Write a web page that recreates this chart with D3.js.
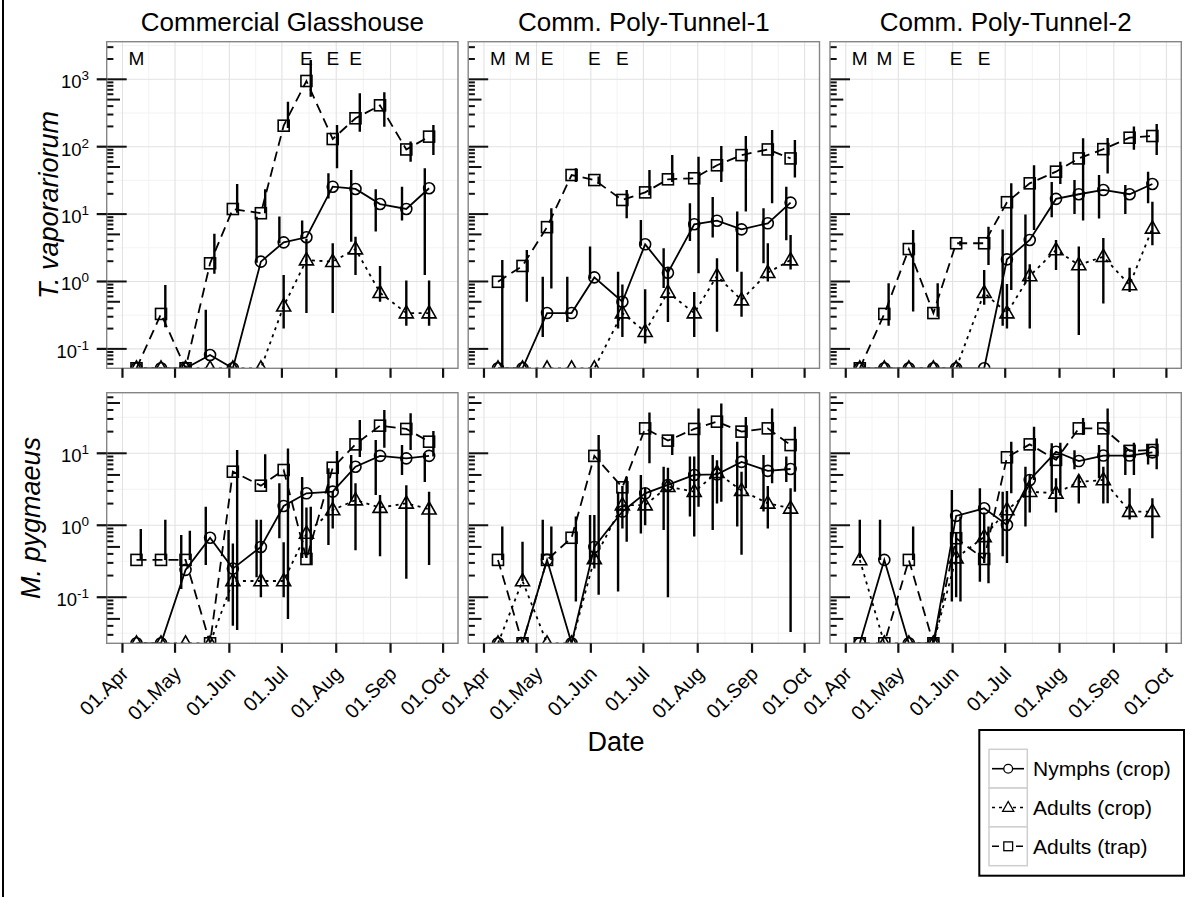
<!DOCTYPE html>
<html>
<head>
<meta charset="utf-8">
<script src="https://cdn.jsdelivr.net/npm/d3@7"></script>
<style>
  body { margin: 0; background: #fff; }
  svg { display: block; }
  text { font-family: "Liberation Sans", Arial, Helvetica, sans-serif; fill: #000; }
</style>
</head>
<body>
<svg id="chart" width="1200" height="897"></svg>
<script>
// ---- Sampling calendar and facets ----
const sampleDates = ["2013-04-09","2013-04-23","2013-05-07","2013-05-21","2013-06-03","2013-06-19",
  "2013-07-02","2013-07-15","2013-07-30","2013-08-12","2013-08-26","2013-09-10","2013-09-23"];
const sites = ["Commercial Glasshouse", "Comm. Poly-Tunnel-1", "Comm. Poly-Tunnel-2"];
const species = ["T. vaporariorum", "M. pygmaeus"];
const stages = ["Nymphs (crop)", "Adults (crop)", "Adults (trap)"];
const monthTicks = ["2013-04-01","2013-05-01","2013-06-01","2013-07-01","2013-08-01","2013-09-01","2013-10-01"];
const tvapDecades = [-1, 0, 1, 2, 3];
const mpygDecades = [-1, 0, 1];

// Release events per site (M = M. pygmaeus, E = Encarsia), one slot per sampling date
const releases = [
  ["M","","","","","","","E","E","E","","",""],
  ["M","M","E","","E","E","","","","","","",""],
  ["M","M","E","","E","E","","","","","","",""]
];

// ---- T. vaporariorum (one row per site) ----
const tvapNymphs = [
  [0,0,0,0.081,0,1.97,3.81,4.53,25.5,23.6,14.1,11.9,24.2],
  [0,0,0.34,0.34,1.15,0.50,3.56,1.35,7.06,7.98,5.94,7.3,14.8],
  [0,0,0,0,0,0,2.13,4.13,16.8,19.7,22.8,19.7,28]
];
const tvapNymphsLo = [
  [null,null,null,0.072,null,1.9,3.7,4.3,17.1,3.9,5.5,8,1.25],
  [null,null,0.15,0.25,1.1,0.2,3.4,0.8,4,4.5,1.4,1.87,4.1],
  [null,null,null,null,null,null,0.22,0.94,9,10,8.6,10,14.5]
];
const tvapNymphsHi = [
  [null,null,null,0.38,null,9.1,9.2,8.0,40.3,45,23.3,25.5,48],
  [null,null,1.18,1.18,3.3,1.4,8.2,3.1,14.5,18,10.9,12.2,25.5],
  [null,null,null,null,null,null,5.9,9.9,30,32,38,27,42.6]
];
const tvapAdults = [
  [0,0,0,0,0,0,0.43,2.08,1.97,3.03,0.68,0.34,0.34],
  [0,0,0,0,0,0.34,0.18,0.69,0.34,1.21,0.53,1.35,2.08],
  [0,0,0,0,0,0.68,0.34,1.21,2.93,1.76,2.33,0.89,6.15]
];
const tvapAdultsLo = [
  [null,null,null,null,null,null,0.2,0.34,0.34,1.25,0.5,0.22,0.22],
  [null,null,null,null,null,0.15,0.12,0.25,0.15,0.18,0.3,1.0,1.5],
  [null,null,null,null,null,0.45,0.2,0.2,1.48,0.16,0.47,0.7,3.45]
];
const tvapAdultsHi = [
  [null,null,null,null,null,null,1.25,4.3,3.7,4.6,1.7,1.03,1.03],
  [null,null,null,null,null,0.9,0.77,1.6,0.7,2.21,1.4,3.68,4.9],
  [null,null,null,null,null,1.48,0.92,1.8,4.13,3.3,4.4,1.6,15.3]
];
const tvapTrap = [
  [0,0.33,0,1.86,11.9,10.3,205,944,130,264,411,91,141],
  [0.99,1.70,6.4,38,32,16.2,21,32.8,34,53,75,91,67],
  [0,0.33,3.03,0.34,3.69,3.69,15,28.6,42.6,67,92,136,144]
];
const tvapTrapLo = [
  [null,0.21,null,1.3,10.5,10.3,190,552,48,167,198,60,75],
  [0,0.5,0.79,30,28,8.7,19,30,1.32,30,10.9,14.5,35],
  [null,0.22,0.36,0.3,3.4,1.76,0.75,5.8,28,8,40,90,75]
];
const tvapTrapHi = [
  [null,0.89,null,5.1,28,23.3,466,1930,210,620,641,119,210],
  [2.08,2.93,12.2,48,36,22.7,45,75,71,102,144,177,126],
  [null,0.94,5.8,0.94,4.0,6.5,28.6,53,60,133,135,200,217]
];

// ---- M. pygmaeus (one row per site) ----
const mpygNymphs = [
  [0,0,0.24,0.67,0.25,0.50,1.85,2.78,2.93,6.5,9.2,8.5,9.2],
  [0,0,0.33,0,0.50,1.55,2.78,3.63,5.0,5.1,7.6,5.7,6.05],
  [0,0.33,0,0,1.35,1.72,1.01,4.26,10.5,7.8,9.3,9.3,10.3]
];
const mpygNymphsLo = [
  [null,null,0.13,0.28,0.087,0.19,0.66,0.35,0.53,2.13,2.64,5,4.0],
  [null,null,0.33,null,0.3,0.12,0.77,0.86,1.32,0.86,0.96,1.55,4],
  [null,0.33,null,null,0.087,0.164,0.37,0.96,2.93,6,4.5,5,7]
];
const mpygNymphsHi = [
  [null,null,0.73,1.81,0.86,1.19,3.83,4.7,6.2,9.5,15.3,13,10],
  [null,null,1.19,null,1.39,2.93,5,6.5,9,9.5,14.5,9.5,9],
  [null,1.19,null,null,3.1,3.27,2.93,6.5,13.8,11,13,12,13]
];
const mpygAdults = [
  [0,0,0,0,0.168,0.168,0.168,0.77,1.63,2.24,1.76,2.02,1.67],
  [0,0.168,0,0,0.34,1.91,1.91,3.44,2.93,5.38,3.03,2.02,1.72],
  [0.33,0,0,0,0.35,0.69,1.63,2.93,2.78,4.0,4.26,1.55,1.55]
];
const mpygAdultsLo = [
  [null,null,null,null,0.04,0.1,0.1,0.35,0.9,0.45,0.37,0.18,0.28],
  [null,0.168,null,null,0.25,0.9,1,0.1,0.7,2,0.39,0.9,0.033],
  [0.35,null,null,null,0.1,0.3,0.3,1.5,1.5,2,2.0,1.2,0.66]
];
const mpygAdultsHi = [
  [null,null,null,null,0.56,1.19,0.58,1.76,3,3.83,2.64,3.6,2.93],
  [null,0.59,null,null,1.39,3.5,3.3,6.3,9,8,5.55,3.5,3.27],
  [1.19,null,null,null,0.8,1.5,3,5,4.5,5,6.5,3.27,2.37]
];
const mpygTrap = [
  [0.33,0.33,0.33,0,5.55,3.55,5.86,0.34,6.3,13.3,24.2,21.8,14.5],
  [0.33,0,0.33,0.67,9.2,3.37,22.2,15,21.8,27.5,20,22.2,13],
  [0,0,0.33,0,0.66,0.34,8.8,13.3,8.1,22.2,22.2,10.8,11.1]
];
const mpygTrapLo = [
  [0.33,0.33,0.33,null,0.035,3.3,0.05,0.28,3,8.9,11.9,11.1,9],
  [0.33,null,0.33,0.087,0.108,0.59,7.3,9.5,1.81,2.13,3.27,3.83,2.93],
  [null,null,0.33,null,0.087,0.156,2.78,4.26,2.6,18,2.02,5,6]
];
const mpygTrapHi = [
  [0.89,1.19,0.84,null,11.1,9.7,11.7,1.81,10.8,29,40,36,20.4],
  [0.96,null,0.96,1.32,17.9,4.7,37,17.9,42,49,32,42,23.4],
  [null,null,0.96,null,1.32,0.96,14.5,23.4,14,31,42,14,16]
];

// ---- Layout ----
const svg = d3.select("#chart");
svg.append("rect").attr("width", 1200).attr("height", 897).attr("fill", "#fff");
svg.append("line").attr("x1", 3).attr("x2", 3).attr("y1", 0).attr("y2", 897)
  .attr("stroke", "#000").attr("stroke-width", 2);

const parse = d3.utcParse("%Y-%m-%d");
const dates = sampleDates.map(parse);
const months = monthTicks.map(parse);
const fmtMonth = d3.utcFormat("%d.%b");
const xDomain = [parse("2013-03-23"), d3.utcHour.offset(parse("2013-10-09"), 12)];
const colLeft = [106.7, 468.2, 830.0];
const panelW = 351.3;

const rows = [
  { top: 41.7, bottom: 368.3, domain: [0.0515, 3614], decades: tvapDecades, titleX: 58,
    series: [[tvapNymphs, tvapNymphsLo, tvapNymphsHi], [tvapAdults, tvapAdultsLo, tvapAdultsHi], [tvapTrap, tvapTrapLo, tvapTrapHi]] },
  { top: 392.7, bottom: 643.3, domain: [0.0229, 69.5], decades: mpygDecades, titleX: 39.5,
    series: [[mpygNymphs, mpygNymphsLo, mpygNymphsHi], [mpygAdults, mpygAdultsLo, mpygAdultsHi], [mpygTrap, mpygTrapLo, mpygTrapHi]] }
];

const dashes = [null, "3,4.5", "10,6"];
const barShift = [-4.3, 0, 4.3];

function marker(g, shape, cx, cy, k = 1) {
  if (shape === 0) {
    g.append("circle").attr("cx", cx).attr("cy", cy).attr("r", 5.5 * k);
  } else if (shape === 1) {
    g.append("path").attr("d", `M${cx},${cy - 7.5 * k}L${cx + 7 * k},${cy + 4.8 * k}L${cx - 7 * k},${cy + 4.8 * k}Z`);
  } else {
    g.append("rect").attr("x", cx - 5.5 * k).attr("y", cy - 5.5 * k).attr("width", 11 * k).attr("height", 11 * k);
  }
}

// Strip labels
sites.forEach((s, c) => {
  svg.append("text").attr("x", colLeft[c] + panelW / 2).attr("y", 31)
    .attr("text-anchor", "middle").attr("font-size", 26).text(s);
});

rows.forEach((row, r) => {
  const y = d3.scaleLog().domain(row.domain).range([row.bottom, row.top]);
  const floor = row.domain[0];
  const yv = v => y(Math.max(v, floor));
  const lo10 = Math.floor(Math.log10(row.domain[0])), hi10 = Math.ceil(Math.log10(row.domain[1]));

  sites.forEach((site, c) => {
    const x = d3.scaleUtc().domain(xDomain).range([colLeft[c], colLeft[c] + panelW]);
    const g = svg.append("g");
    const clipId = `clip-${r}-${c}`;
    svg.append("clipPath").attr("id", clipId).append("rect")
      .attr("x", colLeft[c]).attr("y", row.top).attr("width", panelW).attr("height", row.bottom - row.top);

    // grid: minor then major
    const grid = g.append("g");
    for (let i = 0; i < months.length - 1; i++) {
      const mid = new Date((+months[i] + +months[i + 1]) / 2);
      grid.append("line").attr("x1", x(mid)).attr("x2", x(mid)).attr("y1", row.top).attr("y2", row.bottom)
        .attr("stroke", "#f0f0f0").attr("stroke-width", 0.8);
    }
    for (let k = lo10; k <= hi10; k++) {
      const v = Math.pow(10, k + 0.5);
      if (v > row.domain[0] && v < row.domain[1])
        grid.append("line").attr("x1", colLeft[c]).attr("x2", colLeft[c] + panelW).attr("y1", y(v)).attr("y2", y(v))
          .attr("stroke", "#f0f0f0").attr("stroke-width", 0.8);
    }
    months.forEach(m => {
      grid.append("line").attr("x1", x(m)).attr("x2", x(m)).attr("y1", row.top).attr("y2", row.bottom)
        .attr("stroke", "#e2e2e2").attr("stroke-width", 1.1);
    });
    row.decades.forEach(k => {
      const v = Math.pow(10, k);
      grid.append("line").attr("x1", colLeft[c]).attr("x2", colLeft[c] + panelW).attr("y1", y(v)).attr("y2", y(v))
        .attr("stroke", "#e2e2e2").attr("stroke-width", 1.1);
    });

    const data = g.append("g").attr("clip-path", `url(#${clipId})`);
    // connecting lines
    row.series.forEach((ser, s) => {
      const vals = ser[0][c];
      const line = d3.line().x((d, i) => x(dates[i])).y(d => yv(d));
      data.append("path").attr("d", line(vals)).attr("fill", "none").attr("stroke", "#000")
        .attr("stroke-width", 1.8).attr("stroke-dasharray", dashes[s]);
    });
    // error bars
    row.series.forEach((ser, s) => {
      const lo = ser[1][c], hi = ser[2][c];
      lo.forEach((l, i) => {
        if (l === null || hi[i] === null) return;
        const bx = x(dates[i]) + barShift[s];
        data.append("line").attr("x1", bx).attr("x2", bx)
          .attr("y1", l <= 0 ? row.bottom + 5 : y(l)).attr("y2", y(hi[i]))
          .attr("stroke", "#000").attr("stroke-width", 2.4);
      });
    });
    // markers
    row.series.forEach((ser, s) => {
      const mg = data.append("g").attr("fill", "none").attr("stroke", "#000").attr("stroke-width", 1.6);
      ser[0][c].forEach((v, i) => marker(mg, s, x(dates[i]), yv(v)));
    });

    // log ticks along the left edge of every panel
    const lt = g.append("g").attr("stroke", "#111").attr("stroke-width", 2);
    for (let k = lo10; k <= hi10; k++) {
      for (let m = 1; m <= 9; m++) {
        const v = m * Math.pow(10, k);
        if (v < row.domain[0] || v > row.domain[1]) continue;
        const len = m === 1 ? 20 : (m === 5 ? 13.3 : 6.7);
        lt.append("line").attr("x1", colLeft[c]).attr("x2", colLeft[c] + len).attr("y1", y(v)).attr("y2", y(v));
      }
    }

    // release annotations
    if (r === 0) {
      releases[c].forEach((lab, i) => {
        if (!lab) return;
        g.append("text").attr("x", x(dates[i])).attr("y", 65).attr("text-anchor", "middle")
          .attr("font-size", 19).text(lab);
      });
    }

    // panel border
    g.append("rect").attr("x", colLeft[c]).attr("y", row.top).attr("width", panelW).attr("height", row.bottom - row.top)
      .attr("fill", "none").attr("stroke", "#858585").attr("stroke-width", 1.4);

    // x ticks
    months.forEach(m => {
      g.append("line").attr("x1", x(m)).attr("x2", x(m)).attr("y1", row.bottom).attr("y2", row.bottom + 9.5)
        .attr("stroke", "#111").attr("stroke-width", 2.2);
      if (r === 1) {
        g.append("text").attr("text-anchor", "end").attr("font-size", 20).attr("fill", "#111")
          .attr("transform", `translate(${x(m) + 7.3},675) rotate(-45)`).text(fmtMonth(m));
      }
    });

    // y axis (first column only)
    if (c === 0) {
      row.decades.forEach(k => {
        const yy = y(Math.pow(10, k));
        g.append("line").attr("x1", colLeft[0] - 10).attr("x2", colLeft[0]).attr("y1", yy).attr("y2", yy)
          .attr("stroke", "#111").attr("stroke-width", 2.2);
        const t = g.append("text").attr("x", 89).attr("y", yy + 9).attr("text-anchor", "end")
          .attr("font-size", 18.5).attr("fill", "#111");
        t.append("tspan").text("10");
        t.append("tspan").attr("dy", -8).attr("font-size", 13.5).text(String(k));
      });
      svg.append("text").attr("transform", `translate(${row.titleX},${(row.top + row.bottom) / 2}) rotate(-90)`)
        .attr("text-anchor", "middle").attr("font-size", 27).attr("font-style", "italic").text(species[r]);
    }
  });
});

// x axis title
svg.append("text").attr("x", 616).attr("y", 751)
  .attr("text-anchor", "middle").attr("font-size", 27).text("Date");

// legend
const leg = svg.append("g");
leg.append("rect").attr("x", 979.3).attr("y", 730).attr("width", 204.7).attr("height", 145.7)
  .attr("fill", "#fff").attr("stroke", "#000").attr("stroke-width", 2);
stages.forEach((name, s) => {
  const ky = 749.3 + s * 38.8, cy = ky + 19.4;
  leg.append("rect").attr("x", 989).attr("y", ky).attr("width", 38.3).attr("height", 38.8)
    .attr("fill", "#fff").attr("stroke", "#cfcfcf").attr("stroke-width", 1.5);
  leg.append("line").attr("x1", 992).attr("x2", 1024).attr("y1", cy).attr("y2", cy)
    .attr("stroke", "#000").attr("stroke-width", 1.6).attr("stroke-dasharray", dashes[s] ? (s === 1 ? "3,4" : "7,5") : null);
  const mg = leg.append("g").attr("fill", "#fff").attr("stroke", "#000").attr("stroke-width", 1.3);
  marker(mg, s, 1008.2, cy, 0.8);
  leg.append("text").attr("x", 1033).attr("y", cy + 7.5).attr("font-size", 21).text(name);
});
</script>
</body>
</html>
